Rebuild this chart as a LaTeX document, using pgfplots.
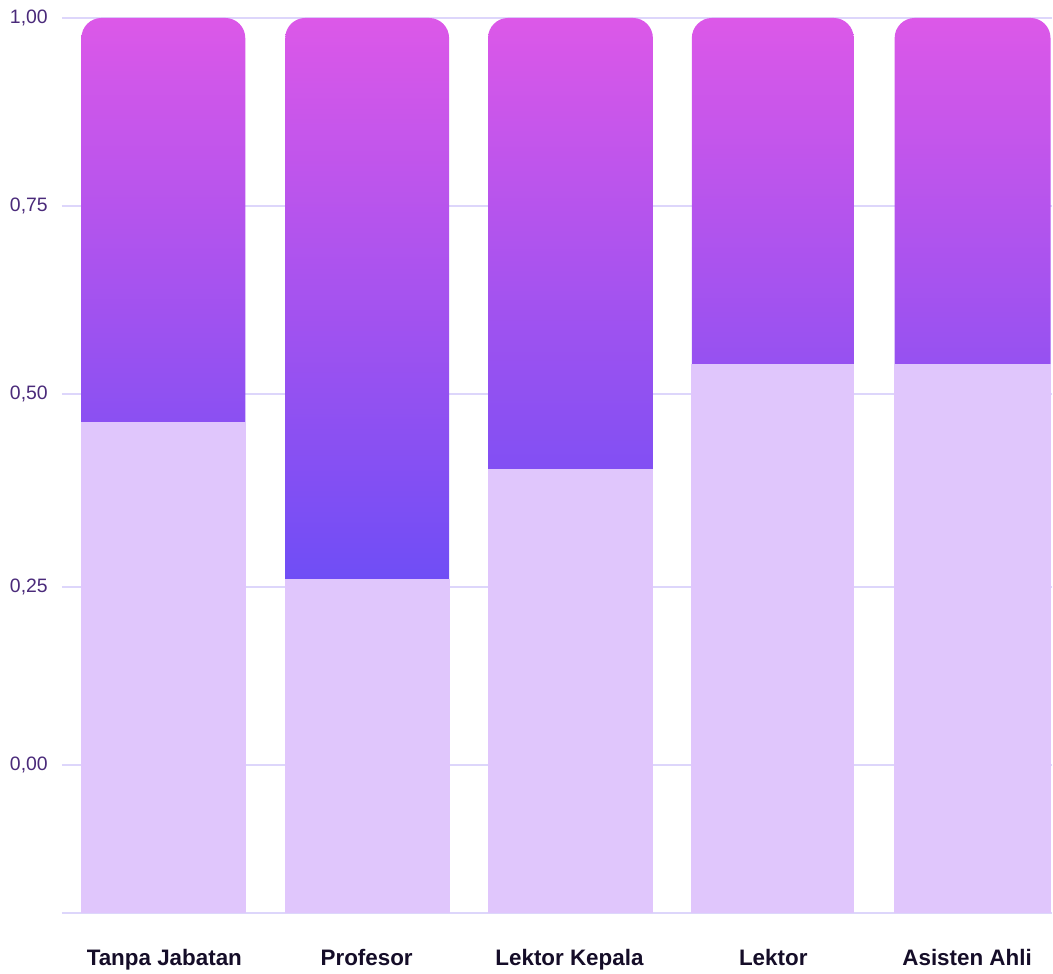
\documentclass[border=0pt]{standalone}
\usepackage{pgfplots}
\pgfplotsset{compat=1.18}
\usepackage{fontspec}
\setmainfont{Liberation Sans}
\definecolor{gridc}{HTML}{DDD6FB}
\definecolor{lightbar}{HTML}{E0C6FC}
\definecolor{gtop}{HTML}{DC58E8}
\definecolor{gbot}{HTML}{6B4DF6}
\definecolor{ticktxt}{HTML}{4A2A7A}
\definecolor{cattxt}{HTML}{150D28}
\begin{document}
\begin{tikzpicture}
\begin{axis}[
  scale only axis,
  width=991bp, height=895.5bp,
  xmin=62, xmax=1053,
  ymin=-0.1972, ymax=1,
  axis line style={draw=none},
  major tick length=0pt,
  ytick={0,0.238,0.4973,0.7487,1},
  yticklabels={{0,00},{0,25},{0,50},{0,75},{1,00}},
  yticklabel style={font=\fontsize{19.5}{20}\selectfont, text=ticktxt, anchor=east, inner sep=0pt, xshift=-14bp},
  xtick={164.5,367,570,774,968},
  xticklabels={Tanpa Jabatan,Profesor,Lektor Kepala,Lektor,Asisten Ahli},
  xticklabel style={font=\bfseries\fontsize{22.5}{23}\selectfont, text=cattxt, anchor=base, inner sep=0pt, yshift=-52.5bp},
  ymajorgrids,
  grid style={draw=gridc, line width=2bp},
  extra y ticks={-0.1972},
  extra y tick labels={},
  extra y tick style={grid=major},
  clip=true,
]
% gradient (upper) parts, extended below the split and covered by the light parts
\addplot[draw=none, mark=none, rounded corners=20bp, top color=gtop, bottom color=gbot!76!gtop] coordinates {(163.5,0.430) (81.5,0.430) (81.5,1) (245.5,1) (245.5,0.430)} --cycle;
\addplot[draw=none, mark=none, rounded corners=20bp, top color=gtop, bottom color=gbot] coordinates {(367.5,0.2187) (285.5,0.2187) (285.5,1) (449.5,1) (449.5,0.2187)} --cycle;
\addplot[draw=none, mark=none, rounded corners=20bp, top color=gtop, bottom color=gbot!84!gtop] coordinates {(571,0.366) (488.5,0.366) (488.5,1) (653.5,1) (653.5,0.366)} --cycle;
\addplot[draw=none, mark=none, rounded corners=20bp, top color=gtop, bottom color=gbot!66!gtop] coordinates {(773.5,0.507) (692.5,0.507) (692.5,1) (854.5,1) (854.5,0.507)} --cycle;
\addplot[draw=none, mark=none, rounded corners=20bp, top color=gtop, bottom color=gbot!66!gtop] coordinates {(973.5,0.507) (895.5,0.507) (895.5,1) (1051.5,1) (1051.5,0.507)} --cycle;
% light (lower) parts
\addplot[fill=lightbar, draw=none, mark=none] coordinates {(81,-0.1972) (81,0.460) (246,0.460) (246,-0.1972)} --cycle;
\addplot[fill=lightbar, draw=none, mark=none] coordinates {(285,-0.1972) (285,0.2487) (450,0.2487) (450,-0.1972)} --cycle;
\addplot[fill=lightbar, draw=none, mark=none] coordinates {(488,-0.1972) (488,0.396) (654,0.396) (654,-0.1972)} --cycle;
\addplot[fill=lightbar, draw=none, mark=none] coordinates {(692,-0.1972) (692,0.537) (855,0.537) (855,-0.1972)} --cycle;
\addplot[fill=lightbar, draw=none, mark=none] coordinates {(895,-0.1972) (895,0.537) (1052,0.537) (1052,-0.1972)} --cycle;
\end{axis}
\path[use as bounding box] (-62bp,-60.5bp) rectangle (991bp,913.5bp);
\end{tikzpicture}
\end{document}
